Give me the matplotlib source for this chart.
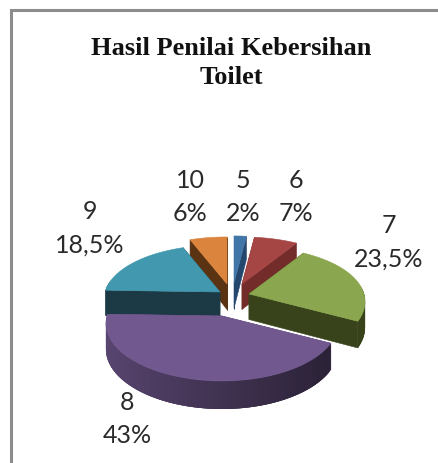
import numpy as np
import matplotlib
matplotlib.use('Agg')
import matplotlib.pyplot as plt
from matplotlib.patches import Polygon

title = 'Hasil Penilai Kebersihan\nToilet'
categories = ['5', '6', '7', '8', '9', '10']
values = [2, 7, 23.5, 43, 18.5, 6]
value_labels = ['2%', '7%', '23,5%', '43%', '18,5%', '6%']

colors = ['#4177a8', '#a54644', '#8aa64e', '#71588f', '#4198af', '#db843d']
wall_colors = ['#24476e', '#732c2a', '#38431c', '#5f4a7a', '#1b3a45', '#5a3312']

# apex of every exploded slice in pixels
apex = [(234, 284), (242, 285), (249, 295), (222, 317), (220, 293), (227, 285)]
label_pos = [(243, 197), (296, 197), (389, 242), (127, 419), (90, 228), (190, 197)]
draw_order = [0, 1, 5, 4, 2, 3]

R = 115
RY = 56
DEPTH = 25.5


def project(ang, r=1.0):
    # clockwise from 12 o'clock, tilted with a bit of perspective
    u = np.sin(ang) * r
    v = np.cos(ang) * r
    dx = R * u * (1 - 0.137 * v)
    dy = -RY * v * (1 - 0.16 * v)
    return dx, dy


def depth(ang):
    return DEPTH * (1 - 0.1 * np.cos(ang))


def shade(col, f):
    rgb = np.array(matplotlib.colors.to_rgb(col))
    return tuple(np.clip(rgb * f, 0, 1))


def draw_slice(ax, i, a0, a1):
    cx, cy = apex[i]
    angs = np.linspace(a0, a1, max(int((a1 - a0) / np.radians(1.5)), 2) + 1)
    dx, dy = project(angs)
    xs = cx + dx
    ys = cy + dy

    # radial walls
    for k in [0, -1]:
        d = depth(angs[k])
        wall = [(cx, cy), (xs[k], ys[k]), (xs[k], ys[k] + d), (cx, cy + DEPTH)]
        ax.add_patch(Polygon(wall, closed=True, fc=wall_colors[i], ec=wall_colors[i], lw=0.4))

    # outer rim, darker towards the right
    n = len(angs)
    for k in range(n - 2, -1, -1):
        if np.cos(angs[k]) > 0.15:
            continue
        # each piece runs over the next one so no seams show
        k2 = min(k + 3, n - 1)
        top = list(zip(xs[k:k2 + 1], ys[k:k2 + 1]))
        bottom = [(xs[j], ys[j] + depth(angs[j])) for j in range(k2, k - 1, -1)]
        if i == 3:
            f = 0.8 - 0.44 * (np.sin(angs[k]) + 1) / 2
            col = shade(colors[i], f)
        else:
            col = wall_colors[i]
        ax.add_patch(Polygon(top + bottom, closed=True, fc=col, ec='none', lw=0))

    pts = [(cx, cy)] + list(zip(xs, ys))
    ax.add_patch(Polygon(pts, closed=True, fc=colors[i], ec=colors[i], lw=0.4))


fig = plt.figure(figsize=(4.39, 4.64), dpi=100)
ax = fig.add_axes([0, 0, 1, 1])
ax.set_xlim(0, 439)
ax.set_ylim(464, 0)
ax.axis('off')

# chart border
ax.plot([11.5, 11.5, 439], [464, 10.5, 10.5], color='#8c8c8c', lw=2.2, solid_joinstyle='miter')

ax.text(231, 63, title, ha='center', va='center', family='Liberation Serif', fontweight='bold',
        fontsize=19, linespacing=1.32, color='#111111')

edges = np.radians(np.cumsum([0] + values) / np.sum(values) * 360)
for i in draw_order:
    draw_slice(ax, i, edges[i], edges[i + 1])

for i in range(len(categories)):
    ax.text(label_pos[i][0], label_pos[i][1], categories[i] + '\n' + value_labels[i], ha='center', va='center',
            family='Lato', fontsize=18, linespacing=1.56, color='#2a2a2a')

fig.savefig('out.png', dpi=100)
